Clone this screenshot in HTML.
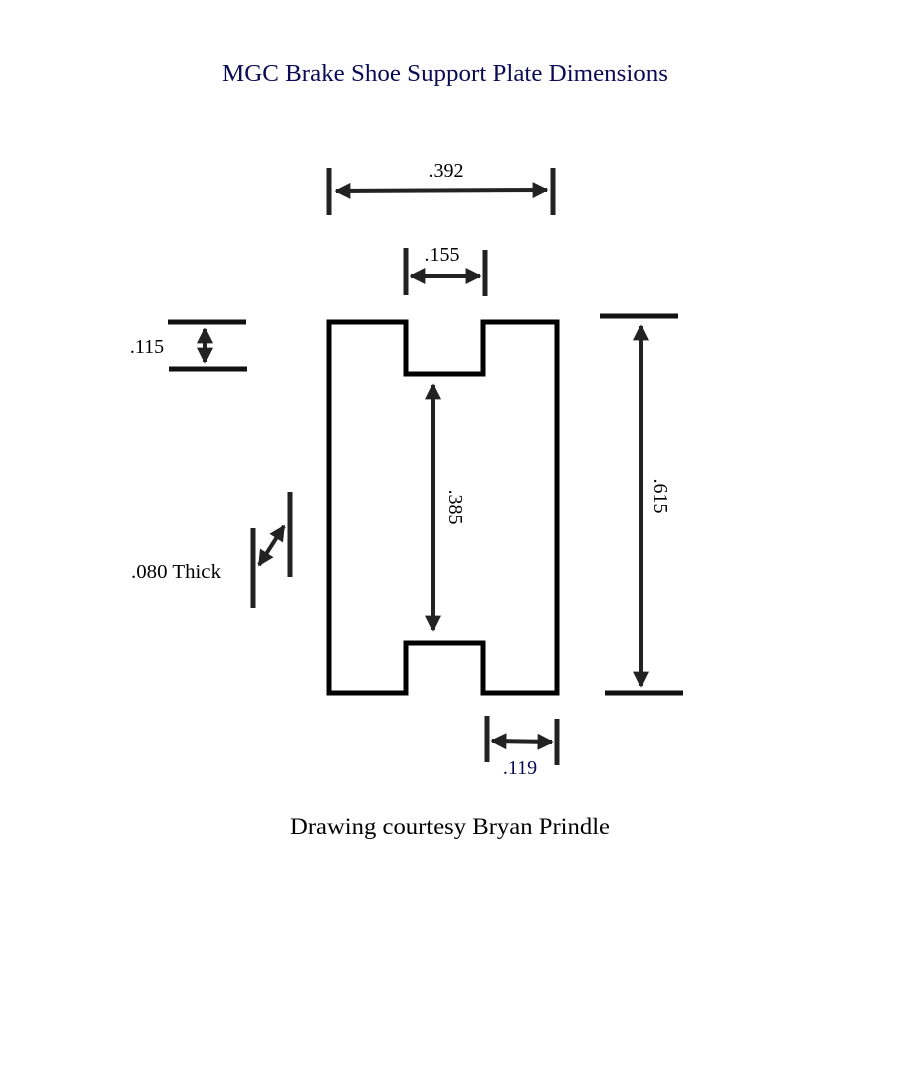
<!DOCTYPE html>
<html><head><style>body{margin:0;background:#fff}svg{display:block}</style></head>
<body>
<svg width="900" height="1088" viewBox="0 0 900 1088" xmlns="http://www.w3.org/2000/svg" font-family="Liberation Serif, serif">
<defs>
<marker id="a" viewBox="0 0 10 10" refX="9" refY="5" markerWidth="4" markerHeight="4" orient="auto-start-reverse"><path d="M0,0 L10,5 L0,10 z" fill="#222"/></marker>
</defs>
<text x="222" y="81" textLength="446" lengthAdjust="spacingAndGlyphs" font-size="24" fill="#0a0a55">MGC Brake Shoe Support Plate Dimensions</text>
<path d="M329,322 H406 V374 H483 V322 H557 V693 H483 V643 H406 V693 H329 Z" fill="none" stroke="#000" stroke-width="5"/>
<g stroke="#222" stroke-width="5" fill="none">
<line x1="329" y1="168" x2="329" y2="215"/><line x1="553" y1="168" x2="553" y2="215"/>
<line x1="406" y1="248" x2="406" y2="295"/><line x1="485" y1="250" x2="485" y2="296"/>
<line x1="168" y1="322" x2="246" y2="322" stroke="#111"/><line x1="169" y1="369" x2="247" y2="369" stroke="#111"/>
<line x1="600" y1="316" x2="678" y2="316" stroke="#111"/><line x1="605" y1="693" x2="683" y2="693" stroke="#111"/>
<line x1="290" y1="492" x2="290" y2="577"/><line x1="253" y1="528" x2="253" y2="608"/>
<line x1="487" y1="716" x2="487" y2="762"/><line x1="557" y1="719" x2="557" y2="765"/>
</g>
<g stroke="#222" stroke-width="4" marker-start="url(#a)" marker-end="url(#a)">
<line x1="336" y1="191" x2="547" y2="190"/>
<line x1="411" y1="276" x2="480" y2="276"/>
<line x1="205" y1="329" x2="205" y2="362"/>
<line x1="433" y1="385" x2="433" y2="630"/>
<line x1="641" y1="326" x2="641" y2="686"/>
<line x1="284" y1="526" x2="259" y2="565"/>
<line x1="492" y1="741" x2="552" y2="742"/>
</g>
<g font-size="20" fill="#000">
<text x="446" y="177" text-anchor="middle">.392</text>
<text x="442" y="261" text-anchor="middle">.155</text>
<text x="147" y="353" text-anchor="middle">.115</text>
<text x="131" y="578" textLength="90" lengthAdjust="spacingAndGlyphs">.080 Thick</text>
<text transform="translate(449,507) rotate(90)" text-anchor="middle">.385</text>
<text transform="translate(654,496) rotate(90)" text-anchor="middle">.615</text>
<text x="520" y="774" text-anchor="middle" fill="#0a0a55">.119</text>
</g>
<text x="290" y="834" textLength="320" lengthAdjust="spacingAndGlyphs" font-size="23">Drawing courtesy Bryan Prindle</text>
</svg>
</body></html>
